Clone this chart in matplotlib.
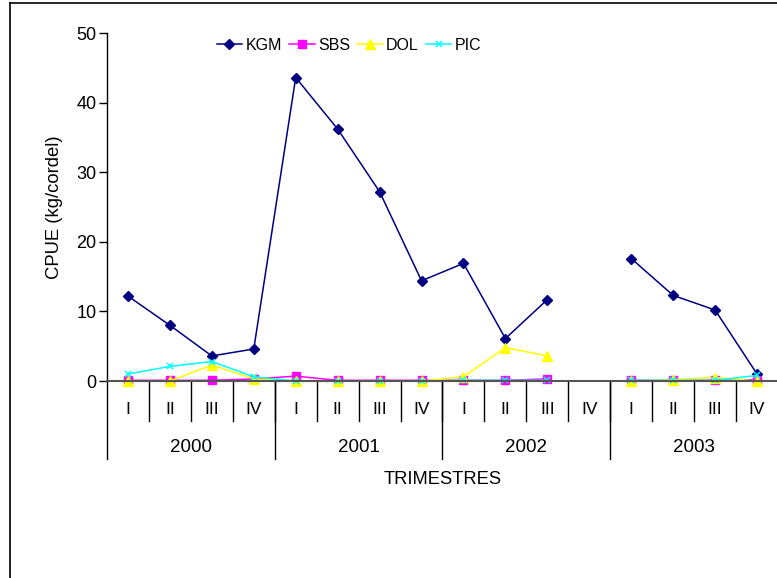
import numpy as np
import matplotlib
matplotlib.use("Agg")
import matplotlib.pyplot as plt
from matplotlib.lines import Line2D
import matplotlib.transforms as mtransforms

plt.rcParams['font.family'] = ['Liberation Sans', 'DejaVu Sans']

years = ["2000", "2001", "2002", "2003"]
quarters = ["I", "II", "III", "IV"]
nan = np.nan
kgm = [12.2, 8.0, 3.6, 4.6, 43.6, 36.2, 27.2, 14.4, 16.9, 6.1, 11.7, nan, 17.6, 12.3, 10.2, 1.0]
sbs = [0.1, 0.1, 0.1, 0.3, 0.7, 0.1, 0.1, 0.1, 0.1, 0.1, 0.3, nan, 0.1, 0.1, 0.1, 0.2]
dol = [0.0, 0.0, 2.3, 0.3, 0.0, 0.0, 0.0, 0.0, 0.6, 4.8, 3.6, nan, 0.0, 0.2, 0.5, 0.0]
pic = [1.0, 2.1, 2.8, 0.6, 0.0, 0.0, 0.0, 0.0, 0.1, 0.1, 0.1, nan, 0.1, 0.1, 0.1, 0.8]

W, H = 777, 578
fig = plt.figure(figsize=(W/100, H/100), dpi=100)
left, right, top, bottom = 107, 778, 33, 381
ax = fig.add_axes([left/W, 1-bottom/H, (right-left)/W, (bottom-top)/H])

x = np.arange(16)
ax.plot(x, kgm, color='#000080', marker='D', ms=5.5, lw=1.1, label='KGM', clip_on=False)
ax.plot(x, sbs, color='#FF00FF', marker='s', ms=5.5, lw=1.1, label='SBS', clip_on=False)
ax.plot(x, dol, color='#FFFF00', marker='^', ms=6.5, lw=1.1, label='DOL', clip_on=False)
ax.plot(x, pic, color='#00FFFF', marker='x', ms=5, mew=1.1, lw=1.1, label='PIC', clip_on=False)

ax.set_xlim(-0.5, 15.5)
ax.set_ylim(0, 50)
ax.set_yticks(range(0, 51, 10))
ax.tick_params(axis='y', direction='out', length=6, width=1, labelsize=13, pad=1.5, color='black')
ax.set_xticks([])
for s in ['top', 'right']:
    ax.spines[s].set_visible(False)
ax.spines['left'].set_color('black')
ax.spines['left'].set_linewidth(1)
ax.spines['bottom'].set_color('#555555')
ax.spines['bottom'].set_linewidth(1.5)

ax.set_ylabel('CPUE (kg/cordel)', fontsize=13.3, labelpad=10)

# multi-level category axis
trans = mtransforms.blended_transform_factory(ax.transData, ax.transAxes)
ah = bottom - top
def yf(px):
    return -(px - bottom) / ah
for i in range(1, 16):
    ax.add_line(Line2D([i-0.5, i-0.5], [0, yf(421)], color='black', lw=1, transform=trans, clip_on=False))
for i in range(0, 16, 4):
    ax.add_line(Line2D([i-0.5, i-0.5], [0, yf(459)], color='black', lw=1, transform=trans, clip_on=False))
for i in range(16):
    ax.text(i, yf(409), quarters[i % 4], transform=trans, ha='center', va='center', fontsize=12.5)
for j, yr in enumerate(years):
    ax.text(j*4+1.5, yf(448), yr, transform=trans, ha='center', va='center', fontsize=13.5)
ax.text(0.5, yf(480), 'TRIMESTRES', transform=ax.transAxes, ha='center', va='center', fontsize=13.2)

leg = ax.legend(loc='center', bbox_to_anchor=((349-left)/(right-left), yf(45)), ncol=4, frameon=False,
                fontsize=11.5, handlelength=1.6, handletextpad=0.2, columnspacing=0.45,
                borderpad=0, borderaxespad=0)

# figure border
fig.add_artist(Line2D([10/W, 10/W], [1-3/H, 0], color='black', lw=1.2, transform=fig.transFigure))
fig.add_artist(Line2D([10/W, 1], [1-3/H, 1-3/H], color='black', lw=1.2, transform=fig.transFigure))

fig.savefig('out.png', dpi=100)
